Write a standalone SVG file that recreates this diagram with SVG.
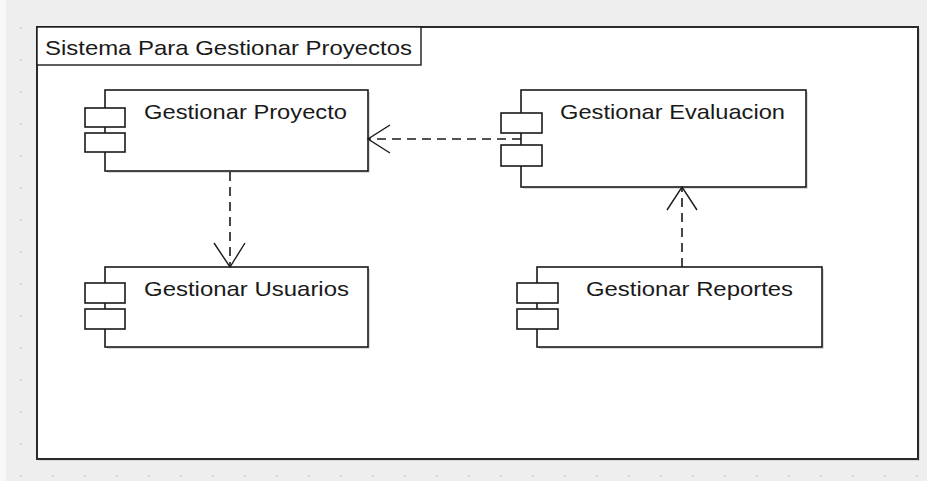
<svg xmlns="http://www.w3.org/2000/svg" width="927" height="481" viewBox="0 0 927 481">
<defs>
<style>
.bg{fill:#eeeeee}
.frame{fill:#ffffff;stroke:#2a2a2a;stroke-width:2}
.box{fill:#ffffff;stroke:#1a1a1a;stroke-width:1.6}
.shadow{fill:#b8b8b8;opacity:0.5}
.lbl{font-family:"Liberation Sans",Arial,sans-serif;font-size:21px;fill:#1a1a1a}
.conn{fill:none;stroke:#1a1a1a;stroke-width:1.6;stroke-dasharray:9 6}
.head{fill:none;stroke:#1a1a1a;stroke-width:1.4}
.dot{fill:#d4d4d4}
</style>
<pattern id="grid" x="20" y="27" width="32" height="32" patternUnits="userSpaceOnUse">
<rect class="dot" x="0" y="0" width="2" height="2"/>
</pattern>
<g id="comp-icon">
<rect class="box" x="0" y="0" width="40" height="20"/>
<rect class="box" x="0" y="26" width="40" height="20"/>
</g>
</defs>
<rect class="bg" x="0" y="0" width="927" height="481"/>
<rect x="0" y="0" width="6" height="481" fill="#f8f8f8"/>
<rect x="6" y="0" width="921" height="481" fill="url(#grid)"/>

<g id="frame">
<rect x="39" y="29" width="881" height="432" fill="#c8c8c8" opacity="0.6"/>
<rect class="frame" x="37" y="27" width="881" height="432"/>
<rect x="37" y="27" width="384" height="38" fill="#ffffff" stroke="#1a1a1a" stroke-width="1.4"/>
<text class="lbl" x="45" y="55" textLength="367" lengthAdjust="spacingAndGlyphs">Sistema Para Gestionar Proyectos</text>
</g>

<g id="gestionar-proyecto">
<rect class="shadow" x="107" y="92" width="263" height="81"/>
<rect class="box" x="105" y="90" width="263" height="81"/>
<rect class="box" x="85" y="108" width="40" height="19"/>
<rect class="box" x="85" y="133" width="40" height="19"/>
<text class="lbl" x="144" y="119" textLength="203" lengthAdjust="spacingAndGlyphs">Gestionar Proyecto</text>
</g>

<g id="gestionar-evaluacion">
<rect class="shadow" x="523" y="92" width="285" height="97"/>
<rect class="box" x="521" y="90" width="285" height="97"/>
<rect class="box" x="501" y="113" width="41" height="20"/>
<rect class="box" x="501" y="145" width="41" height="21"/>
<text class="lbl" x="560" y="119" textLength="225" lengthAdjust="spacingAndGlyphs">Gestionar Evaluacion</text>
</g>

<g id="gestionar-usuarios">
<rect class="shadow" x="107" y="269" width="263" height="80"/>
<rect class="box" x="105" y="267" width="263" height="80"/>
<rect class="box" x="85" y="283" width="40" height="20"/>
<rect class="box" x="85" y="309" width="40" height="20"/>
<text class="lbl" x="144" y="296" textLength="205" lengthAdjust="spacingAndGlyphs">Gestionar Usuarios</text>
</g>

<g id="gestionar-reportes">
<rect class="shadow" x="539" y="269" width="285" height="80"/>
<rect class="box" x="537" y="267" width="285" height="80"/>
<rect class="box" x="517" y="283" width="41" height="20"/>
<rect class="box" x="517" y="309" width="41" height="20"/>
<text class="lbl" x="586" y="296" textLength="207" lengthAdjust="spacingAndGlyphs">Gestionar Reportes</text>
</g>

<g id="connectors">
<path class="conn" d="M521 139 H369"/>
<path class="head" d="M390 125 L368 139 L390 153"/>
<path class="conn" d="M230 172 V266"/>
<path class="head" d="M214 243 L230 267 L245 243"/>
<path class="conn" d="M682 267 V188"/>
<path class="head" d="M667 210 L682 187 L697 210"/>
</g>
</svg>
